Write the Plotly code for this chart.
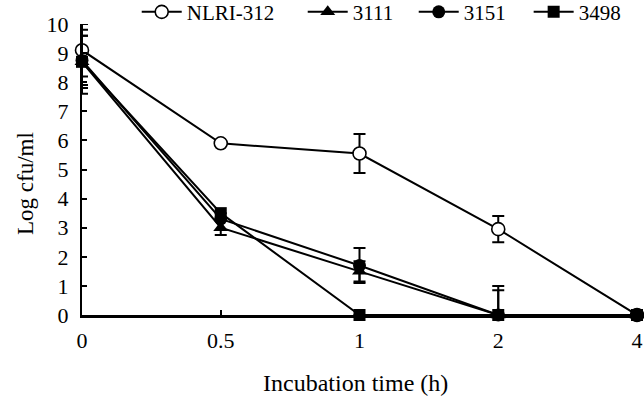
import plotly.graph_objects as go

time_labels = ["0", "0.5", "1", "2", "4"]
series_names = ["NLRI-312", "3111", "3151", "3498"]
nlri_vals = [9.1, 5.9, 5.55, 2.95, 0]
nlri_err = [0.9, 0.0, 0.67, 0.45, 0]
s3111_vals = [8.7, 3.0, 1.5, 0, 0]
s3111_err = [0.9, 0.25, 0.35, 0.85, 0]
s3151_vals = [8.75, 3.3, 1.7, 0, 0]
s3151_err = [0.85, 0.0, 0.6, 1.0, 0]
s3498_vals = [8.7, 3.5, 0, 0, 0]
s3498_err = [1.1, 0.0, 0, 0, 0]
y_ticks = list(range(0, 11))

xs = list(range(len(time_labels)))
FONT = "Liberation Serif, Times New Roman, serif"

legend_x = [0.0986, 0.3977, 0.5977, 0.8048]
legend_ids = ["legend", "legend2", "legend3", "legend4"]

fig = go.Figure()
specs = [
    (series_names[0], nlri_vals, nlri_err, dict(symbol="circle", size=13, color="white", line=dict(color="black", width=1.6))),
    (series_names[1], s3111_vals, s3111_err, dict(symbol="triangle-up", size=13, color="black", line=dict(color="black", width=0))),
    (series_names[2], s3151_vals, s3151_err, dict(symbol="circle", size=13, color="black", line=dict(color="black", width=0))),
    (series_names[3], s3498_vals, s3498_err, dict(symbol="square", size=12, color="black", line=dict(color="black", width=0))),
]
for i, (name, vals, err, marker) in enumerate(specs):
    minus = [min(e, v) for e, v in zip(err, vals)]
    fig.add_trace(go.Scatter(
        x=xs, y=vals, name=name, mode="lines+markers",
        line=dict(color="black", width=2),
        marker=marker,
        error_y=dict(type="data", array=err, arrayminus=minus, symmetric=False,
                     color="black", thickness=2, width=6),
        cliponaxis=False,
        legend=legend_ids[i],
    ))

leg_common = dict(orientation="h", y=1.111, xanchor="left", yanchor="top",
                  itemwidth=40,
                  font=dict(family=FONT, size=21), bgcolor="rgba(0,0,0,0)")

fig.update_layout(
    width=644, height=396,
    margin=dict(l=82, r=7, t=24, b=81, autoexpand=False),
    paper_bgcolor="white", plot_bgcolor="white",
    font=dict(family=FONT, size=21, color="black"),
    showlegend=True,
    legend=dict(x=legend_x[0], **leg_common),
    legend2=dict(x=legend_x[1], **leg_common),
    legend3=dict(x=legend_x[2], **leg_common),
    legend4=dict(x=legend_x[3], **leg_common),
    xaxis=dict(range=[0, 4], tickvals=xs, ticktext=time_labels, automargin=False,
               showline=True, linecolor="black", linewidth=2.5,
               ticks="inside", ticklen=5, tickwidth=1.5, tickcolor="black",
               showgrid=False, zeroline=False, ticklabelstandoff=4,
               tickfont=dict(family=FONT, size=22)),
    yaxis=dict(range=[0, 10], tickvals=y_ticks, automargin=False,
               showline=True, linecolor="black", linewidth=2,
               ticks="inside", ticklen=5, tickwidth=1.5, tickcolor="black",
               showgrid=False, zeroline=False, ticklabelstandoff=7,
               tickfont=dict(family=FONT, size=22)),
    annotations=[
        dict(text="Incubation time (h)", xref="paper", yref="paper",
             x=(355 - 82) / 555, y=-(383 - 315) / 291, xanchor="center", yanchor="middle",
             showarrow=False, font=dict(family=FONT, size=24)),
        dict(text="Log cfu/ml", xref="paper", yref="paper", textangle=-90,
             x=-(82 - 25) / 555, y=(315 - 184) / 291, xanchor="center", yanchor="middle",
             showarrow=False, font=dict(family=FONT, size=23)),
    ],
)

fig.write_html("out.html", config={"displayModeBar": False},
               post_script="document.body.style.margin='0px';")
